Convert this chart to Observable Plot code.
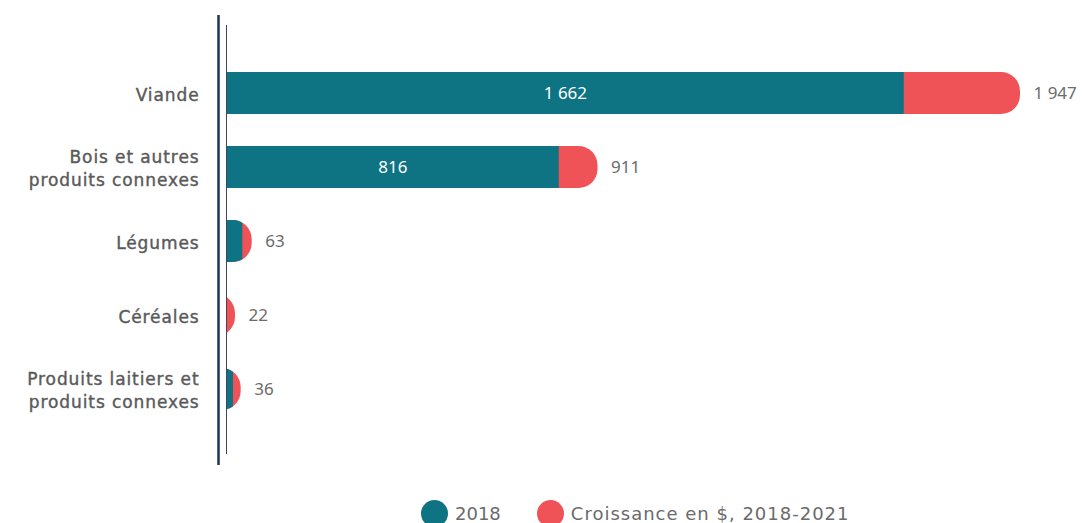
<!DOCTYPE html>
<html>
<head>
<meta charset="utf-8">
<script src="https://cdn.jsdelivr.net/npm/d3@7"></script>
<script src="https://cdn.jsdelivr.net/npm/@observablehq/plot@0.6"></script>
<style>
  html, body { margin: 0; padding: 0; background: #fff; }
  body { width: 1086px; height: 523px; overflow: hidden; font-family: "DejaVu Sans", sans-serif; }
  #legend { display: flex; align-items: center; margin-left: 421px; margin-top: 12px; font-size: 18px; color: #6b6b6b; }
  .sw { width: 27px; height: 27px; border-radius: 50%; display: inline-block; margin-right: 7px; }
  .item { display: flex; align-items: center; margin-right: 36px; }
  .item:last-child span:last-child { letter-spacing: 1px; }
</style>
</head>
<body>
<div id="chart"></div>
<div id="legend"></div>
<script>
const categories = ["Viande", "Bois et autres\nproduits connexes", "Légumes", "Céréales", "Produits laitiers et\nproduits connexes"];
const values2018 = [1662, 816, 40, 0, 17];
const totals2021 = [1947, 911, 63, 22, 36];
const seriesNames = ["2018", "Croissance en $, 2018-2021"];
const colors = ["#0e7382", "#ef5257"];

const fr = d3.formatLocale({decimal: ",", thousands: "\u00a0", grouping: [3], currency: ["", " $"]});
const fmt = fr.format(",d");

const data = categories.map((c, i) => ({cat: c, base: values2018[i], total: totals2021[i]}));
const hiddenStart = -100; // extend bars left of the frame so only the right end is rounded

const svg = Plot.plot({
  width: 1086,
  height: 488,
  marginLeft: 226,
  marginRight: 66,
  marginTop: 38,
  marginBottom: 45,
  style: {fontFamily: "Noto Sans, sans-serif", fontSize: "17px", color: "#666"},
  x: {domain: [0, d3.max(totals2021)], axis: null},
  y: {domain: categories, padding: 0.436, label: null, axis: null},
  marks: [
    Plot.barX(data, {y: "cat", x1: hiddenStart, x2: "total", fill: colors[1], rx: 19, clip: true}),
    Plot.barX(data, {y: "cat", x1: hiddenStart, x2: "base", fill: colors[0], clip: true}),
    Plot.text(data.filter(d => d.base > 200), {y: "cat", x: d => d.base / 2, text: d => fmt(d.base), fill: "white", fontSize: 17}),
    Plot.text(data, {y: "cat", x: "total", text: d => fmt(d.total), dx: 13, textAnchor: "start", fill: "#6b6b6b", fontSize: 17}),
    Plot.axisY({tickSize: 0, tickPadding: 27, lineHeight: 1.35, fontSize: 17, label: null}),
    Plot.ruleX([0], {stroke: "#3a4a5a", strokeWidth: 1, insetTop: -13, insetBottom: -11}),
    Plot.ruleX([0], {stroke: "#1c3553", strokeWidth: 2.5, dx: -8, insetTop: -23, insetBottom: -22})
  ]
});

// clip the 2018 segments to the rounded total shapes
const s = d3.select(svg);
const bars = s.selectAll('g[aria-label="bar"]').nodes();
const defs = s.insert("defs", ":first-child");
const cp = defs.append("clipPath").attr("id", "bar-shapes");
d3.select(bars[0]).selectAll("rect").each(function () { cp.node().appendChild(this.cloneNode()); });
d3.select(bars[1]).selectAll("rect").attr("clip-path", "url(#bar-shapes)");
s.selectAll('g[aria-label="y-axis tick label"]')
  .attr("fill", "#5a5a5a")
  .attr("stroke", "#5a5a5a")
  .attr("stroke-width", 0.4)
  .style("font-family", "'DejaVu Sans', sans-serif")
  .style("letter-spacing", "0.9px");

document.getElementById("chart").appendChild(svg);

const legend = d3.select("#legend");
seriesNames.forEach((n, i) => {
  const it = legend.append("div").attr("class", "item");
  it.append("span").attr("class", "sw").style("background", colors[i]);
  it.append("span").text(n);
});
</script>
</body>
</html>
